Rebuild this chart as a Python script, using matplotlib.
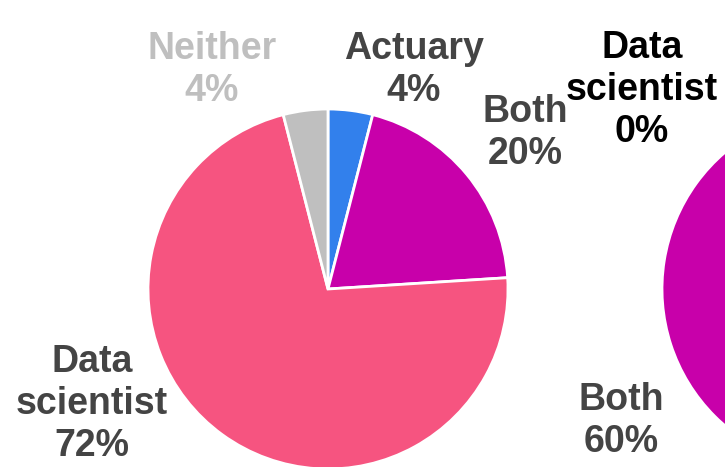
import matplotlib.pyplot as plt

plt.rcParams['font.family'] = ['Liberation Sans', 'DejaVu Sans']

categories = ['Actuary', 'Both', 'Data scientist', 'Neither']
colors = ['#3280EC', '#C800AA', '#F65480', '#BFBFBF']

# share of respondents per group, two panels
left_values = [4, 20, 72, 4]
right_values = [40, 60, 0, 0]

W, H = 725, 467
fig = plt.figure(figsize=(W / 100, H / 100), dpi=100)
ax = fig.add_axes([0, 0, 1, 1])

radius = 180
centers = [(328, H - 289), (842, H - 289)]

for vals, c in zip([left_values, right_values], centers):
    ax.pie(vals, colors=colors, startangle=90, counterclock=False,
           center=c, radius=radius, frame=True,
           wedgeprops=dict(edgecolor='white', linewidth=2))

ax.set_xlim(0, W)
ax.set_ylim(0, H)
ax.set_aspect('equal')
ax.axis('off')

# label text positions (pixels from top-left) and colours
left_label_pos = {'Actuary': (414, 70), 'Both': (525, 133),
                  'Data scientist': (92, 404), 'Neither': (212, 70)}
right_label_pos = {'Data scientist': (642, 90), 'Both': (621, 421)}
label_color = {'Actuary': '#444444', 'Both': '#444444',
               'Data scientist': '#444444', 'Neither': '#BFBFBF'}


def put_labels(vals, pos, colour_override=None):
    for name, v in zip(categories, vals):
        if name not in pos:
            continue
        x, y = pos[name]
        col = label_color[name]
        if colour_override and name in colour_override:
            col = colour_override[name]
        ax.text(x, H - y, name.replace(' ', '\n') + '\n' + f'{v}%',
                ha='center', va='center', fontsize=27, fontweight='bold',
                color=col, linespacing=1.2)


put_labels(left_values, left_label_pos)
put_labels(right_values, right_label_pos, {'Data scientist': '#000000'})

fig.savefig('out.png', dpi=100)
